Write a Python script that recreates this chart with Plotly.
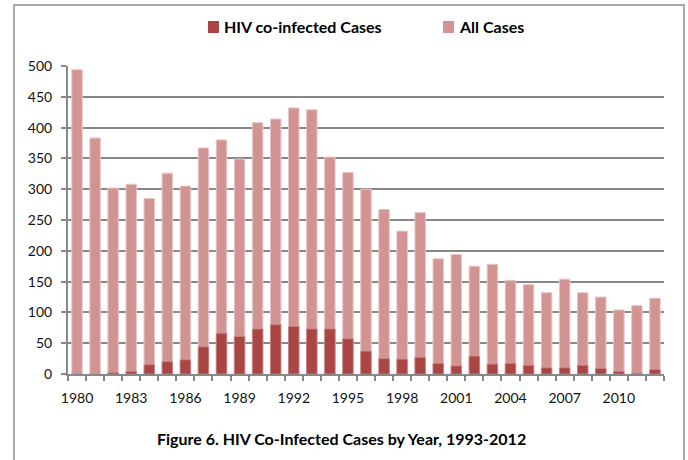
import plotly.graph_objects as go

# Annual tuberculosis case counts, 1980-2012
years = list(range(1980, 2013))
all_cases = [494, 383, 302, 308, 285, 326, 305, 367, 380, 349, 408,
             414, 432, 429, 352, 327, 300, 267, 232, 262, 187, 194,
             175, 178, 152, 145, 132, 154, 132, 125, 104, 111, 123]
hiv_cases = [0, 0, 2, 4, 15, 20, 23, 44, 66, 61, 73,
             80, 77, 73, 73, 57, 37, 25, 24, 27, 17, 13,
             29, 16, 17, 14, 10, 10, 14, 9, 4, 1, 7]
x_tick_years = list(range(1980, 2013, 3))

series_names = ["HIV co-infected Cases", "All Cases"]
series_colors = ["#A94644", "#D29393"]

TEXT_FONT = "Lato"
GRID = "#888888"

W, H = 688, 460
L, R, T, B = 68, 24, 66, 86
pw, ph = W - L - R, H - T - B


def px_x(p):
    return (p - L) / pw


def px_y(p):
    return (H - B - p) / ph


fig = go.Figure()
fig.add_trace(go.Bar(
    x=years, y=all_cases, name=series_names[1],
    marker=dict(color=series_colors[1], line=dict(color="#E9C6C6", width=1)),
))
fig.add_trace(go.Bar(
    x=years, y=hiv_cases, name=series_names[0],
    marker=dict(color=series_colors[0], line=dict(color="#C98180", width=0.8)),
))

# Legend row across the top: a swatch and a bold label per series
shapes = [dict(
    type="rect", xref="paper", yref="paper",
    x0=px_x(14), x1=px_x(684), y0=px_y(470), y1=px_y(5),
    line=dict(color="#8C8C8C", width=1.5), fillcolor="rgba(0,0,0,0)",
    layer="below",
)]
annotations = []
for name, color, sx in zip(series_names, series_colors, [208, 443]):
    shapes.append(dict(
        type="rect", xref="paper", yref="paper",
        x0=px_x(sx), x1=px_x(sx + 11), y0=px_y(33), y1=px_y(21),
        line=dict(width=0), fillcolor=color,
    ))
    annotations.append(dict(
        text=f"<b>{name}</b>", xref="paper", yref="paper",
        x=px_x(sx + 14), y=px_y(27), xanchor="left", yanchor="middle",
        showarrow=False, font=dict(family=TEXT_FONT, size=16, color="#000"),
    ))

annotations.append(dict(
    text="<b>Figure 6. HIV Co-Infected Cases by Year, 1993-2012</b>",
    xref="paper", yref="paper", x=px_x(341), y=px_y(438),
    xanchor="center", yanchor="middle", showarrow=False,
    font=dict(family=TEXT_FONT, size=16, color="#000"),
))

fig.update_layout(
    width=W, height=H,
    margin=dict(l=L, r=R, t=T, b=B),
    paper_bgcolor="white", plot_bgcolor="white",
    barmode="overlay", bargap=0.42,
    font=dict(family=TEXT_FONT, size=14, color="#111111"),
    showlegend=False,
    xaxis=dict(
        range=[1979.5, 2012.5], tickvals=x_tick_years,
        ticktext=[str(y) for y in x_tick_years],
        ticks="", showgrid=False, zeroline=False,
        showline=True, linecolor=GRID, linewidth=2,
        tickfont=dict(size=14), ticklabelstandoff=10,
        minor=dict(ticks="outside", ticklen=5, tickcolor=GRID, tickwidth=1.5,
                   tick0=1979.5, dtick=1, showgrid=False),
    ),
    yaxis=dict(
        range=[0, 500], dtick=50, showgrid=True, gridcolor=GRID, gridwidth=2,
        zeroline=False, showline=True, linecolor=GRID, linewidth=2,
        ticks="outside", ticklen=5, tickcolor=GRID, tickwidth=1.5,
        tickfont=dict(size=14), ticklabelstandoff=6,
    ),
    shapes=shapes,
    annotations=annotations,
)

fig.write_html("out.html")
